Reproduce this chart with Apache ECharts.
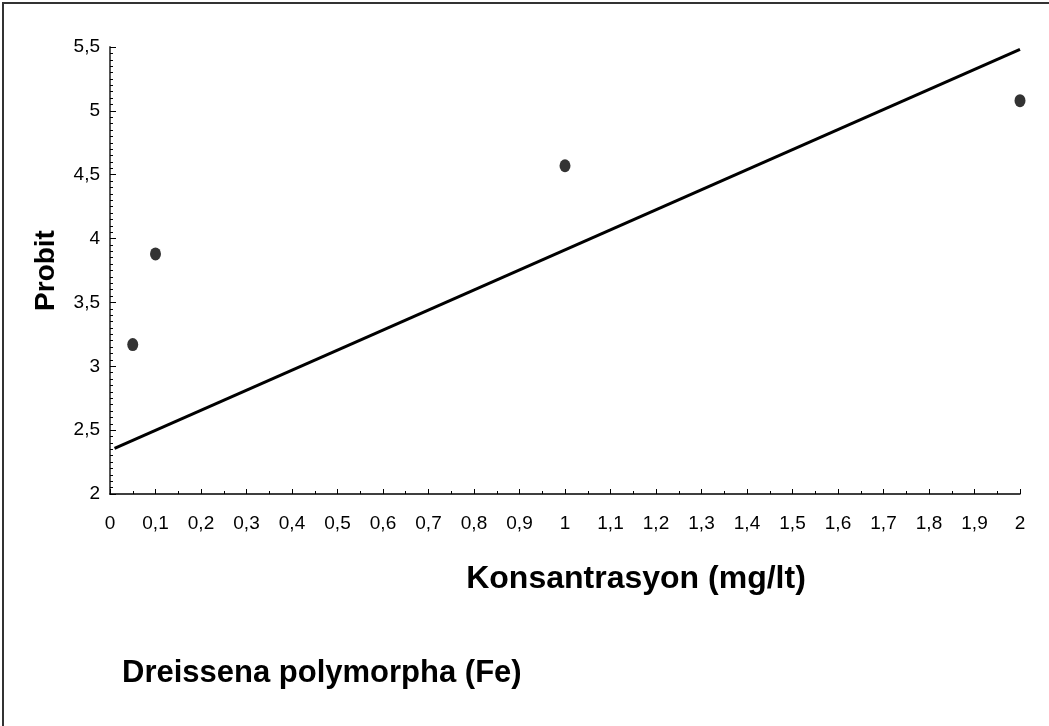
<!DOCTYPE html>
<html>
<head>
<meta charset="utf-8">
<script src="https://cdn.jsdelivr.net/npm/echarts@6/dist/echarts.min.js"></script>
<style>
html,body{margin:0;padding:0;background:#fff;}
#chart{width:1049px;height:726px;}
</style>
</head>
<body>
<div id="chart"></div>
<script>
// Observed data points (concentration mg/lt, probit)
var concentrations = [0.05, 0.1, 1, 2];
var probits = [3.17, 3.88, 4.57, 5.08];
// Fitted regression line endpoints
var fitX = [0.01, 2];
var fitY = [2.357, 5.481];

var xTitle = 'Konsantrasyon (mg/lt)';
var yTitle = 'Probit';
var caption = 'Dreissena polymorpha (Fe)';

var FONT = '"Liberation Sans", Arial, sans-serif';
function comma(v){ return String(Math.round(v*10)/10).replace('.', ','); }

var chart = echarts.init(document.getElementById('chart'), null, {renderer:'canvas'});
chart.setOption({
  animation: false,
  backgroundColor: '#fff',
  textStyle: {fontFamily: FONT},
  graphic: [
    {type:'rect', shape:{x:3, y:3, width:1100, height:800}, style:{fill:null, stroke:'#333', lineWidth:2}, silent:true}
  ],
  title: {
    text: caption, left: 122, top: 658, padding: 0,
    textStyle: {fontFamily: FONT, fontSize: 31, fontWeight: 'bold', color: '#000'}
  },
  grid: {left: 110, right: 29, top: 47, bottom: 232, containLabel: false},
  xAxis: {
    type: 'value', min: 0, max: 2, interval: 0.1,
    name: xTitle, nameLocation: 'middle', nameGap: 69,
    nameTextStyle: {fontFamily: FONT, fontSize: 32, fontWeight: 'bold', color: '#000', padding: [0, 0, 0, 142]},
    axisLine: {show: true, onZero: false, lineStyle: {color: '#000', width: 1.5}},
    axisTick: {show: true, inside: true, length: 5, lineStyle: {color: '#000', width: 1}},
    minorTick: {show: true, splitNumber: 2, length: 3, lineStyle: {color: '#000', width: 1}},
    splitLine: {show: false},
    axisLabel: {margin: 20, fontFamily: FONT, fontSize: 19, color: '#000', formatter: comma}
  },
  yAxis: {
    type: 'value', min: 2, max: 5.5, interval: 0.5,
    name: yTitle, nameLocation: 'middle', nameGap: 50, nameRotate: 90,
    nameTextStyle: {fontFamily: FONT, fontSize: 28, fontWeight: 'bold', color: '#000'},
    axisLine: {show: true, onZero: false, lineStyle: {color: '#555', width: 2}},
    axisTick: {show: true, inside: true, length: 6, lineStyle: {color: '#000', width: 1}},
    minorTick: {show: true, splitNumber: 10, length: 3, lineStyle: {color: '#000', width: 1}},
    splitLine: {show: false},
    axisLabel: {margin: 10, fontFamily: FONT, fontSize: 19, color: '#000', formatter: comma}
  },
  series: [
    {
      type: 'line', data: fitX.map(function(x,i){return [x, fitY[i]];}),
      symbol: 'none', lineStyle: {color: '#000', width: 3}, silent: true, z: 2
    },
    {
      type: 'scatter', data: concentrations.map(function(x,i){return [x, probits[i]];}),
      symbol: 'circle', symbolSize: [11, 13], itemStyle: {color: '#000'}, z: 3
    }
  ]
});
</script>
</body>
</html>
